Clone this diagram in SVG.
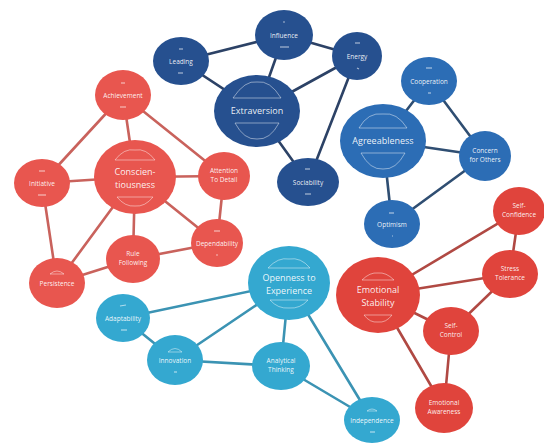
<svg xmlns="http://www.w3.org/2000/svg" width="544" height="444" viewBox="0 0 544 444">
<defs>
<style>
.e line{stroke-width:2.6;stroke-linecap:round}
.ex line{stroke:#2c4266}
.ag line{stroke:#2f4e72}
.co line{stroke:#c9625c}
.em line{stroke:#b04943}
.op line{stroke:#3b93b3}
.n-ex{fill:#26508f}
.n-ag{fill:#2c6db5}
.n-co{fill:#e8564f}
.n-em{fill:#e0443c}
.n-op{fill:#34a8d0}
text{font-family:"Open Sans","Liberation Sans",sans-serif;fill:#ffffff;text-anchor:middle;fill-opacity:0.92}
.s{font-size:6.5px}
.b{font-size:9px}
.d{fill:none;stroke:#ffffff;stroke-opacity:0.5;stroke-width:0.9}
.k{stroke:#ffffff;stroke-opacity:0.6;stroke-width:1.2}
</style>
</defs>
<rect width="544" height="444" fill="#ffffff"/>
<g id="connectors" class="e">
<g class="ex">
<line x1="181" y1="61" x2="284" y2="35"/>
<line x1="284" y1="35" x2="357" y2="56"/>
<line x1="181" y1="61" x2="257" y2="111"/>
<line x1="284" y1="35" x2="257" y2="111"/>
<line x1="357" y1="56" x2="257" y2="111"/>
<line x1="357" y1="56" x2="308" y2="182"/>
<line x1="257" y1="111" x2="308" y2="182"/>
</g>
<g class="ag">
<line x1="429" y1="81" x2="383" y2="141"/>
<line x1="429" y1="81" x2="485" y2="156"/>
<line x1="383" y1="141" x2="485" y2="156"/>
<line x1="383" y1="141" x2="392" y2="224"/>
<line x1="392" y1="224" x2="485" y2="156"/>
</g>
<g class="co">
<line x1="123" y1="95" x2="42" y2="183"/>
<line x1="123" y1="95" x2="135" y2="177"/>
<line x1="123" y1="95" x2="224" y2="176"/>
<line x1="42" y1="183" x2="135" y2="177"/>
<line x1="42" y1="183" x2="57" y2="283"/>
<line x1="135" y1="177" x2="224" y2="176"/>
<line x1="135" y1="177" x2="217" y2="243"/>
<line x1="135" y1="177" x2="133" y2="259"/>
<line x1="135" y1="177" x2="57" y2="283"/>
<line x1="224" y1="176" x2="217" y2="243"/>
<line x1="133" y1="259" x2="217" y2="243"/>
<line x1="57" y1="283" x2="133" y2="259"/>
</g>
<g class="em">
<line x1="378" y1="295" x2="519" y2="211"/>
<line x1="519" y1="211" x2="510" y2="274"/>
<line x1="378" y1="295" x2="510" y2="274"/>
<line x1="510" y1="274" x2="451" y2="331"/>
<line x1="378" y1="295" x2="451" y2="331"/>
<line x1="451" y1="331" x2="444" y2="408"/>
<line x1="378" y1="295" x2="444" y2="408"/>
</g>
<g class="op">
<line x1="289" y1="283" x2="123" y2="318"/>
<line x1="123" y1="318" x2="175" y2="360"/>
<line x1="289" y1="283" x2="175" y2="360"/>
<line x1="175" y1="360" x2="281" y2="366"/>
<line x1="289" y1="283" x2="281" y2="366"/>
<line x1="289" y1="283" x2="372" y2="420"/>
<line x1="281" y1="366" x2="372" y2="420"/>
</g>
</g>

<!-- Extraversion -->
<g id="extraversion"><ellipse class="n-ex" cx="257" cy="111" rx="43" ry="36"/>
<path class="d" d="M233 98 Q245 80 257 82 Q270 80 281 98 Z"/><path class="d" d="M235 123 L279 123 Q270 140 257 139 Q244 140 235 123 Z"/>
<text class="b" x="257" y="114">Extraversion</text></g>
<g id="leading"><ellipse class="n-ex" cx="181" cy="61" rx="28" ry="24"/><line class="k" x1="179" y1="49" x2="183" y2="49"/><line class="k" x1="178" y1="73" x2="183" y2="73"/><text class="s" x="181" y="63.5">Leading</text></g>
<g id="influence"><ellipse class="n-ex" cx="284" cy="35" rx="29" ry="25"/><line class="k" x1="283" y1="22" x2="285" y2="22"/><line class="k" x1="280" y1="47" x2="289" y2="47"/><text class="s" x="284" y="37.5">Influence</text></g>
<g id="energy"><ellipse class="n-ex" cx="357" cy="56" rx="25" ry="24"/><line class="k" x1="355" y1="43" x2="360" y2="43"/><line class="k" x1="357" y1="68" x2="359" y2="69"/><text class="s" x="357" y="58.5">Energy</text></g>
<g id="sociability"><ellipse class="n-ex" cx="308" cy="182" rx="31" ry="24"/><line class="k" x1="305" y1="169" x2="310" y2="169"/><line class="k" x1="305" y1="194" x2="311" y2="194"/><text class="s" x="308" y="184.5">Sociability</text></g>

<!-- Agreeableness -->
<g id="agreeableness"><ellipse class="n-ag" cx="383" cy="141" rx="43" ry="37"/>
<path class="d" d="M359 128 Q368 112 383 114 Q397 112 407 128 Z"/><path class="d" d="M361 153 L405 153 Q396 170 383 169 Q370 170 361 153 Z"/>
<text class="b" x="383" y="144">Agreeableness</text></g>
<g id="cooperation"><ellipse class="n-ag" cx="429" cy="81" rx="28" ry="24"/><line class="k" x1="426" y1="68" x2="432" y2="68"/><line class="k" x1="428" y1="93" x2="431" y2="93"/><text class="s" x="429" y="83.5">Cooperation</text></g>
<g id="concern"><ellipse class="n-ag" cx="485" cy="156" rx="26" ry="25"/><text class="s" x="485" y="153">Concern</text><text class="s" x="485" y="162">for Others</text></g>
<g id="optimism"><ellipse class="n-ag" cx="392" cy="224" rx="28" ry="24"/><line class="k" x1="389" y1="213" x2="394" y2="213"/><line class="k" x1="392" y1="236" x2="393" y2="236"/><text class="s" x="392" y="226.5">Optimism</text></g>

<!-- Conscientiousness -->
<g id="conscientiousness"><ellipse class="n-co" cx="135" cy="177" rx="41" ry="37"/>
<path class="d" d="M115 160 Q124 148 135 150 Q146 148 155 160 Z"/><path class="d" d="M117 197 L153 197 Q145 207 135 206 Q125 207 117 197 Z"/>
<text class="b" x="135" y="175">Conscien-</text><text class="b" x="135" y="187.5">tiousness</text></g>
<g id="achievement"><ellipse class="n-co" cx="123" cy="95" rx="28" ry="25"/><line class="k" x1="121" y1="83" x2="125" y2="83"/><line class="k" x1="120" y1="107" x2="126" y2="107"/><text class="s" x="123" y="97.5">Achievement</text></g>
<g id="initiative"><ellipse class="n-co" cx="42" cy="183" rx="28" ry="24"/><line class="k" x1="39" y1="171" x2="45" y2="171"/><line class="k" x1="38" y1="195" x2="46" y2="195"/><text class="s" x="42" y="185.5">Initiative</text></g>
<g id="attention"><ellipse class="n-co" cx="224" cy="176" rx="26" ry="24"/><text class="s" x="224" y="173">Attention</text><text class="s" x="224" y="182">To Detail</text></g>
<g id="dependability"><ellipse class="n-co" cx="217" cy="243" rx="26" ry="24"/><line class="k" x1="214" y1="231" x2="220" y2="231"/><line class="k" x1="216" y1="255" x2="218" y2="255"/><text class="s" x="217" y="245.5">Dependability</text></g>
<g id="rule-following"><ellipse class="n-co" cx="133" cy="259" rx="27" ry="24"/><text class="s" x="133" y="256">Rule</text><text class="s" x="133" y="265">Following</text></g>
<g id="persistence"><ellipse class="n-co" cx="57" cy="283" rx="28" ry="25"/><path class="d" d="M50 274 Q57 268 64 274 Z"/><text class="s" x="57" y="285.5">Persistence</text></g>

<!-- Emotional Stability -->
<g id="emotional-stability"><ellipse class="n-em" cx="378" cy="295" rx="42" ry="38"/>
<path class="d" d="M362 280 Q370 272 378 273 Q386 272 394 280 Z"/><path class="d" d="M364 315 L392 315 Q386 323 378 322 Q370 323 364 315 Z"/>
<text class="b" x="378" y="293">Emotional</text><text class="b" x="378" y="305.5">Stability</text></g>
<g id="self-confidence"><ellipse class="n-em" cx="519" cy="211" rx="26" ry="24"/><text class="s" x="519" y="208">Self-</text><text class="s" x="519" y="217">Confidence</text></g>
<g id="stress-tolerance"><ellipse class="n-em" cx="510" cy="274" rx="28" ry="24"/><text class="s" x="510" y="271">Stress</text><text class="s" x="510" y="280">Tolerance</text></g>
<g id="self-control"><ellipse class="n-em" cx="451" cy="331" rx="28" ry="24"/><text class="s" x="451" y="328">Self-</text><text class="s" x="451" y="337">Control</text></g>
<g id="emotional-awareness"><ellipse class="n-em" cx="444" cy="408" rx="29" ry="25"/><text class="s" x="444" y="405">Emotional</text><text class="s" x="444" y="414">Awareness</text></g>

<!-- Openness -->
<g id="openness"><ellipse class="n-op" cx="289" cy="283" rx="41" ry="37"/>
<path class="d" d="M268 268 Q278 257 289 259 Q301 257 310 268 Z"/><path class="d" d="M270 300 L308 300 Q300 309 289 308 Q278 309 270 300 Z"/>
<text class="b" x="289" y="281">Openness to</text><text class="b" x="289" y="293.5">Experience</text></g>
<g id="adaptability"><ellipse class="n-op" cx="123" cy="318" rx="27" ry="24"/><line class="k" x1="120" y1="306" x2="126" y2="305"/><line class="k" x1="121" y1="330" x2="127" y2="330"/><text class="s" x="123" y="320.5">Adaptability</text></g>
<g id="innovation"><ellipse class="n-op" cx="175" cy="360" rx="28" ry="25"/><path class="d" d="M168 352 Q175 345 182 352 Z"/><line class="k" x1="174" y1="372" x2="177" y2="372"/><text class="s" x="175" y="362.5">Innovation</text></g>
<g id="analytical-thinking"><ellipse class="n-op" cx="281" cy="366" rx="29" ry="24"/><text class="s" x="281" y="363">Analytical</text><text class="s" x="281" y="372">Thinking</text></g>
<g id="independence"><ellipse class="n-op" cx="372" cy="420" rx="28" ry="23"/><path class="d" d="M367 411 Q372 407 377 411 Z"/><line class="k" x1="370" y1="432" x2="375" y2="432"/><text class="s" x="372" y="422.5">Independence</text></g>
</svg>
